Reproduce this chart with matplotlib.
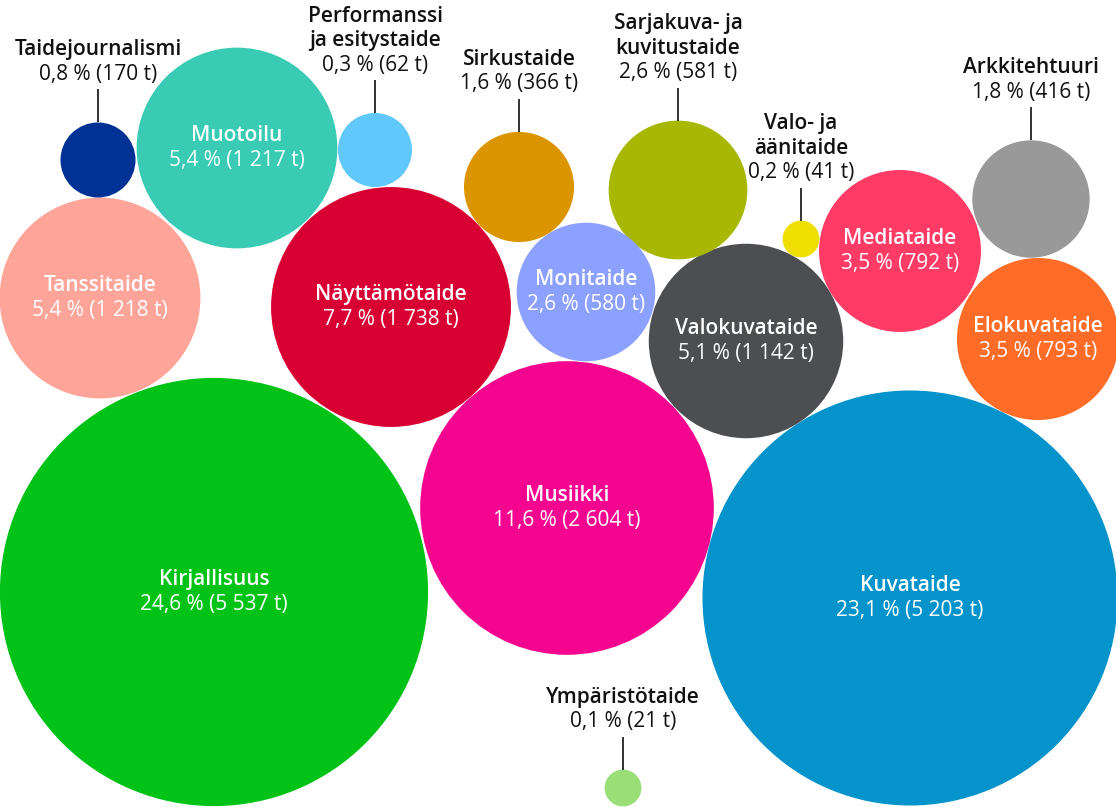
import numpy as np
import matplotlib.pyplot as plt
from matplotlib.patches import Circle

# Taiteenalat: osuus (%) ja määrä (t)
nimet = ["Kirjallisuus", "Kuvataide", "Musiikki", "Näyttämötaide", "Muotoilu",
         "Tanssitaide", "Valokuvataide", "Elokuvataide", "Mediataide", "Sarjakuva- ja kuvitustaide",
         "Monitaide", "Arkkitehtuuri", "Sirkustaide", "Taidejournalismi",
         "Performanssi ja esitystaide", "Valo- ja äänitaide", "Ympäristötaide"]
osuudet = [24.6, 23.1, 11.6, 7.7, 5.4, 5.4, 5.1, 3.5, 3.5, 2.6, 2.6, 1.8, 1.6, 0.8, 0.3, 0.2, 0.1]
maarat = [5537, 5203, 2604, 1738, 1217, 1218, 1142, 793, 792, 581, 580, 416, 366, 170, 62, 41, 21]

# asettelu: kuplien keskipisteet (px), otsikon rivitys, tekstin paikka
keskipisteet = [(214, 592), (910, 598), (567, 508), (391, 307), (237, 148),
                (100, 298), (746, 341), (1038, 339), (900, 251), (678, 190),
                (586, 292), (1031, 199), (519, 187), (98, 160),
                (375, 150), (801, 239), (623, 788)]
otsikot = {"Sarjakuva- ja kuvitustaide": "Sarjakuva- ja\nkuvitustaide",
           "Performanssi ja esitystaide": "Performanssi\nja esitystaide",
           "Valo- ja äänitaide": "Valo- ja\näänitaide"}
ulkona = {"Arkkitehtuuri", "Sirkustaide", "Taidejournalismi", "Sarjakuva- ja kuvitustaide",
          "Performanssi ja esitystaide", "Valo- ja äänitaide", "Ympäristötaide"}
# alkuperäisessä kuvassa tämä kupla on piirretty isommaksi kuin arvo antaisi
min_sade = {"Performanssi ja esitystaide": 37}
varit = ["#00C217", "#0493CA", "#F5058F", "#D80032", "#3ACBB4",
         "#FFA499", "#4D4E51", "#FF6C27", "#FF3B66", "#A8B702",
         "#8CA0FF", "#999999", "#DB9501", "#003296",
         "#60C8FA", "#EEDF00", "#99DE77"]

K = 2.877      # sade = K * sqrt(maara)
MIN_R = 18.4
FONTTI = ["Open Sans", "DejaVu Sans"]
KOKO = 15
RIVI = 24.5


def muotoile(osuus, maara):
    o = f"{osuus:.1f}".replace(".", ",")
    m = f"{maara:,}".replace(",", " ")
    return f"{o} % ({m} t)"


fig = plt.figure(figsize=(11.16, 8.07), dpi=100)
ax = fig.add_axes([0, 0, 1, 1])
ax.set_xlim(0, 1116)
ax.set_ylim(807, 0)
ax.set_aspect("equal")
ax.axis("off")

for nimi, osuus, maara, (cx, cy), vari in zip(nimet, osuudet, maarat, keskipisteet, varit):
    r = max(K * np.sqrt(maara), min_sade.get(nimi, MIN_R))
    ax.add_patch(Circle((cx, cy), r, facecolor=vari, edgecolor="none"))
    otsikko = otsikot.get(nimi, nimi)
    arvo = muotoile(osuus, maara)
    if nimi in ulkona:
        yla = cy - r
        ax.plot([cx, cx], [yla - 33, yla], color="#333333", lw=1.4, solid_capstyle="butt")
        y_arvo = yla - 48
        ax.text(cx, y_arvo, arvo, ha="center", va="center", color="#111111",
                fontsize=KOKO, family=FONTTI)
        rivit = otsikko.split("\n")
        for i, rivi in enumerate(reversed(rivit)):
            ax.text(cx, y_arvo - RIVI * (i + 1), rivi, ha="center", va="center",
                    color="#111111", fontsize=KOKO, fontweight="semibold", family=FONTTI)
    else:
        ax.text(cx, cy - RIVI / 2, otsikko, ha="center", va="center", color="white",
                fontsize=KOKO, fontweight="semibold", family=FONTTI)
        ax.text(cx, cy + RIVI / 2, arvo, ha="center", va="center", color="white",
                fontsize=KOKO, family=FONTTI)

fig.savefig("out.png", dpi=100, facecolor="white")
